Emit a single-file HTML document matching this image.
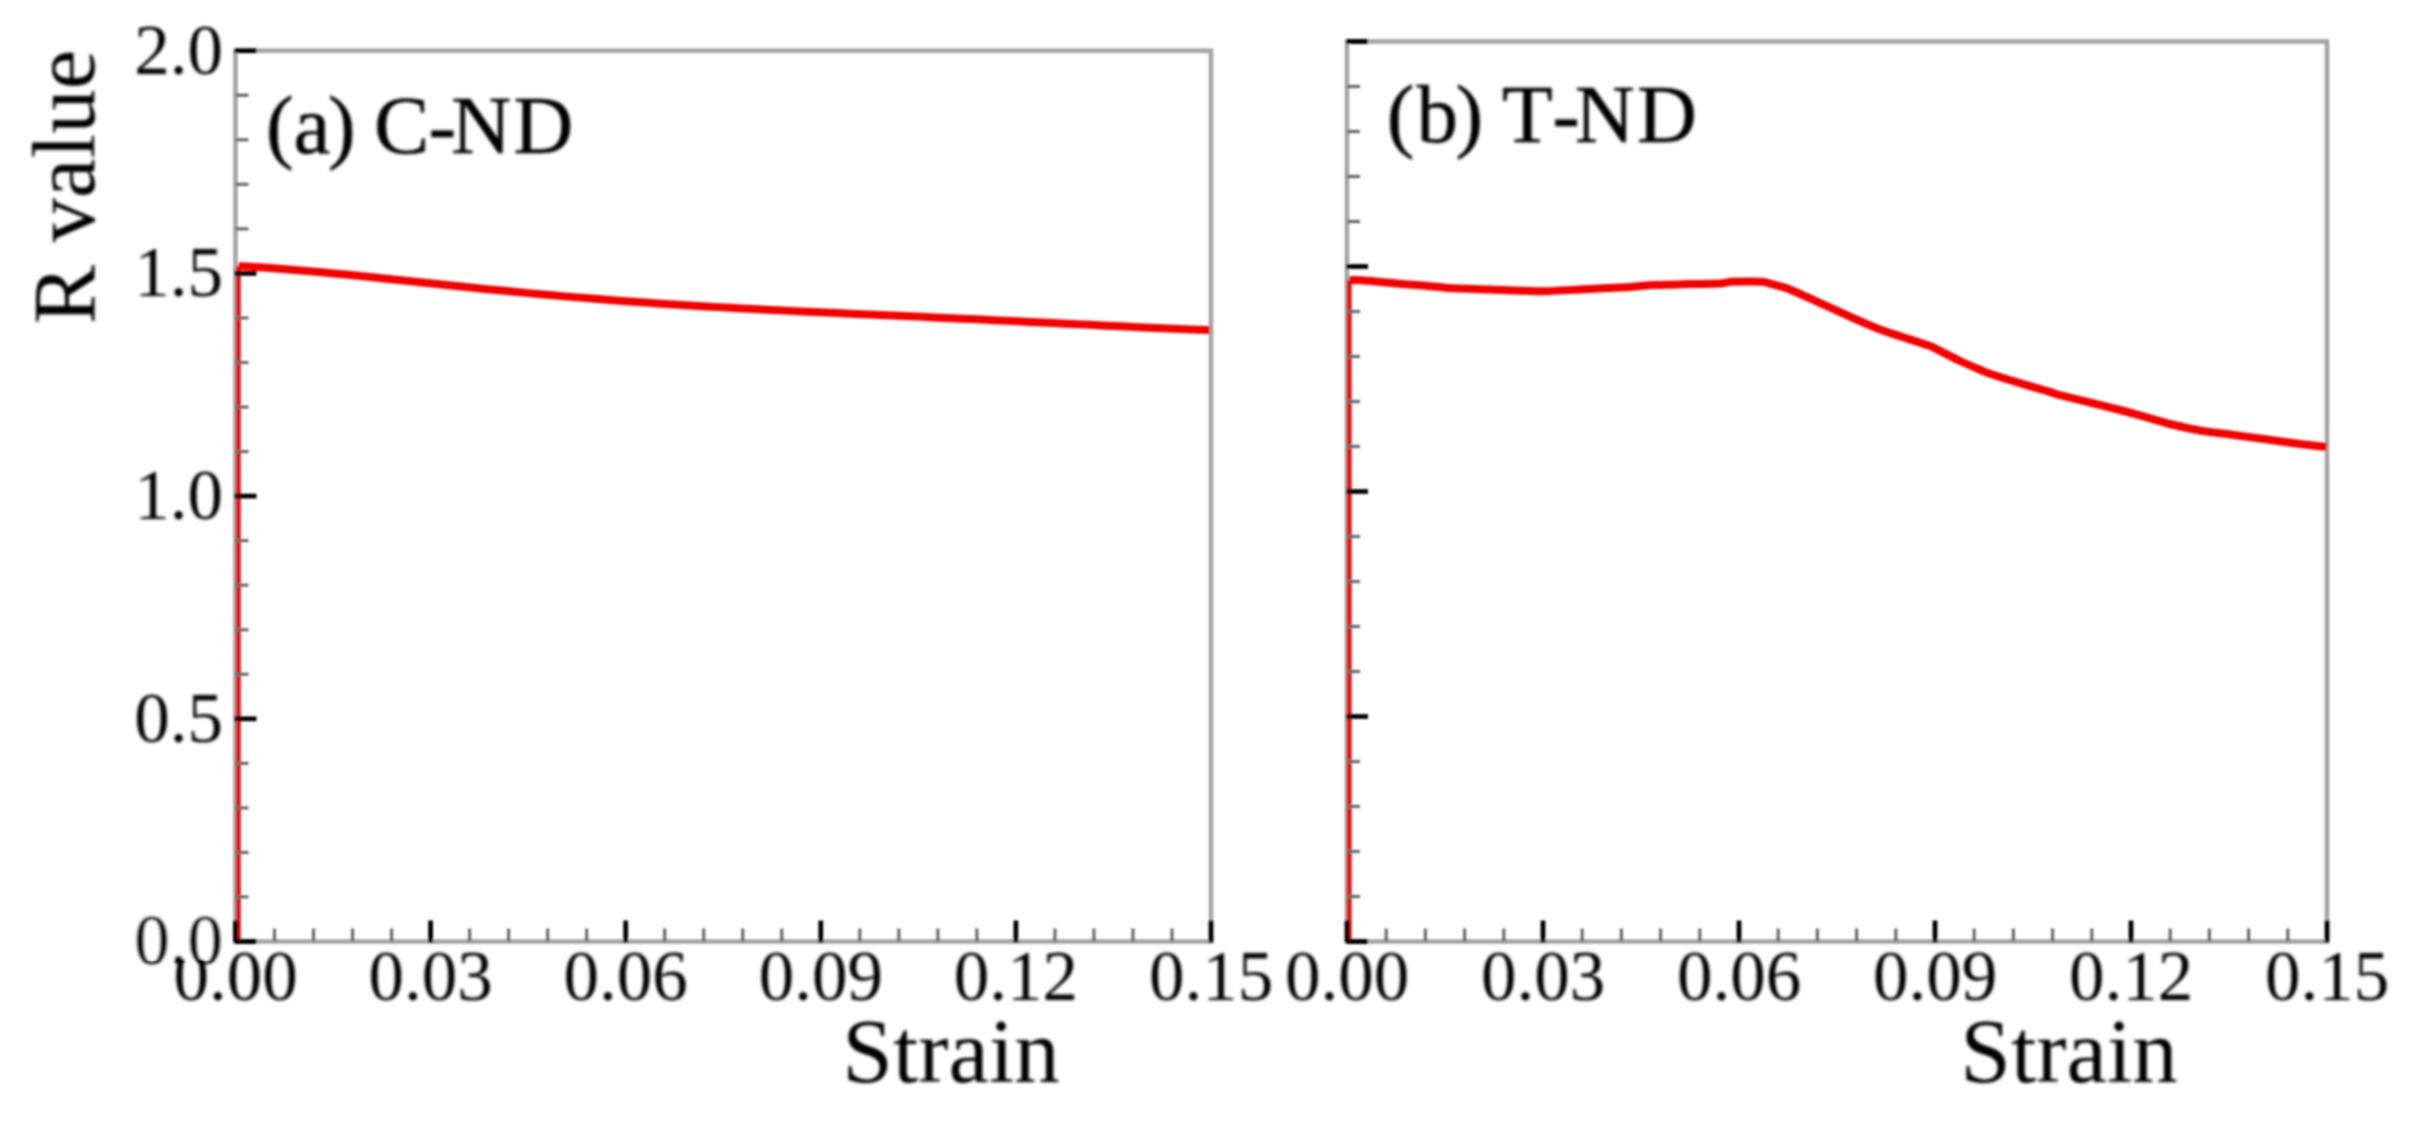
<!DOCTYPE html>
<html><head><meta charset="utf-8"><style>
html,body{margin:0;padding:0;background:#fff;width:2409px;height:1121px;overflow:hidden}
svg{display:block}
text{font-family:"Liberation Serif",serif;fill:#000;stroke:#000;stroke-width:0.0}
.ttl{stroke-width:0.5}
.tk{stroke:#fff;stroke-width:0.0}
</style></head><body>
<svg width="2409" height="1121" viewBox="0 0 2409 1121">
<defs><filter id="bl" x="-5%" y="-5%" width="110%" height="110%"><feGaussianBlur stdDeviation="0.9"/></filter><filter id="bt" x="-10%" y="-10%" width="120%" height="120%"><feGaussianBlur stdDeviation="1.0"/></filter></defs>
<rect width="2409" height="1121" fill="#fff"/>
<g filter="url(#bl)">
<rect x="235.5" y="50.7" width="975.5" height="890.8" fill="none" stroke="#a4a4a4" stroke-width="4.6"/>
<path d="M238.3 941.5 L238.3 266.2" fill="none" stroke="#d81414" stroke-width="5"/>
<path d="M238.3 266.2 C239.67 266.26 245.84 266.49 250 266.73 C254.16 266.97 268.4 267.89 274 268.3 C279.6 268.7 292.4 269.71 298 270.18 C303.6 270.64 316.4 271.78 322 272.3 C327.6 272.81 340.4 274.05 346 274.6 C351.6 275.15 364.4 276.44 370 277.02 C375.6 277.59 388.4 278.92 394 279.51 C399.6 280.09 412.4 281.44 418 282.03 C423.6 282.62 436.4 283.96 442 284.54 C447.6 285.12 460.4 286.44 466 287.01 C471.6 287.58 484.4 288.87 490 289.43 C495.6 289.98 508.4 291.22 514 291.75 C519.6 292.29 532.4 293.48 538 293.98 C543.6 294.49 556.4 295.62 562 296.11 C567.6 296.59 580.4 297.66 586 298.11 C591.6 298.57 604.4 299.57 610 300 C615.6 300.43 628.4 301.37 634 301.77 C639.6 302.17 652.4 303.06 658 303.43 C663.6 303.81 676.4 304.63 682 304.98 C687.6 305.33 700.4 306.11 706 306.43 C711.6 306.76 724.4 307.49 730 307.79 C735.6 308.1 748.4 308.78 754 309.08 C759.6 309.37 772.4 310.01 778 310.29 C783.6 310.57 796.4 311.18 802 311.45 C807.6 311.72 820.4 312.31 826 312.57 C831.6 312.83 844.4 313.41 850 313.66 C855.6 313.91 868.4 314.48 874 314.73 C879.6 314.98 892.4 315.55 898 315.8 C903.6 316.05 916.4 316.62 922 316.87 C927.6 317.12 940.4 317.7 946 317.96 C951.6 318.21 964.4 318.8 970 319.06 C975.6 319.32 988.4 319.92 994 320.18 C999.6 320.45 1012.4 321.06 1018 321.33 C1023.6 321.6 1036.4 322.22 1042 322.49 C1047.6 322.77 1060.4 323.4 1066 323.67 C1071.6 323.95 1084.4 324.58 1090 324.86 C1095.6 325.13 1108.4 325.76 1114 326.03 C1119.6 326.3 1132.4 326.91 1138 327.17 C1143.6 327.43 1156.4 328.01 1162 328.25 C1167.6 328.49 1180.4 329.03 1186 329.25 C1191.6 329.47 1207.2 330.02 1210 330.12" fill="none" stroke="#f00000" stroke-width="8.0" stroke-linejoin="round"/>
<line x1="235.5" y1="896.96" x2="248.5" y2="896.96" stroke="#6a6a6a" stroke-width="3.2"/>
<line x1="235.5" y1="852.42" x2="248.5" y2="852.42" stroke="#6a6a6a" stroke-width="3.2"/>
<line x1="235.5" y1="807.88" x2="248.5" y2="807.88" stroke="#6a6a6a" stroke-width="3.2"/>
<line x1="235.5" y1="763.34" x2="248.5" y2="763.34" stroke="#6a6a6a" stroke-width="3.2"/>
<line x1="235.5" y1="674.26" x2="248.5" y2="674.26" stroke="#6a6a6a" stroke-width="3.2"/>
<line x1="235.5" y1="629.72" x2="248.5" y2="629.72" stroke="#6a6a6a" stroke-width="3.2"/>
<line x1="235.5" y1="585.18" x2="248.5" y2="585.18" stroke="#6a6a6a" stroke-width="3.2"/>
<line x1="235.5" y1="540.64" x2="248.5" y2="540.64" stroke="#6a6a6a" stroke-width="3.2"/>
<line x1="235.5" y1="451.56" x2="248.5" y2="451.56" stroke="#6a6a6a" stroke-width="3.2"/>
<line x1="235.5" y1="407.02" x2="248.5" y2="407.02" stroke="#6a6a6a" stroke-width="3.2"/>
<line x1="235.5" y1="362.48" x2="248.5" y2="362.48" stroke="#6a6a6a" stroke-width="3.2"/>
<line x1="235.5" y1="317.94" x2="248.5" y2="317.94" stroke="#6a6a6a" stroke-width="3.2"/>
<line x1="235.5" y1="228.86" x2="248.5" y2="228.86" stroke="#6a6a6a" stroke-width="3.2"/>
<line x1="235.5" y1="184.32" x2="248.5" y2="184.32" stroke="#6a6a6a" stroke-width="3.2"/>
<line x1="235.5" y1="139.78" x2="248.5" y2="139.78" stroke="#6a6a6a" stroke-width="3.2"/>
<line x1="235.5" y1="95.24" x2="248.5" y2="95.24" stroke="#6a6a6a" stroke-width="3.2"/>
<line x1="274.52" y1="941.5" x2="274.52" y2="928.5" stroke="#6a6a6a" stroke-width="3.2"/>
<line x1="313.54" y1="941.5" x2="313.54" y2="928.5" stroke="#6a6a6a" stroke-width="3.2"/>
<line x1="352.56" y1="941.5" x2="352.56" y2="928.5" stroke="#6a6a6a" stroke-width="3.2"/>
<line x1="391.58" y1="941.5" x2="391.58" y2="928.5" stroke="#6a6a6a" stroke-width="3.2"/>
<line x1="469.62" y1="941.5" x2="469.62" y2="928.5" stroke="#6a6a6a" stroke-width="3.2"/>
<line x1="508.64" y1="941.5" x2="508.64" y2="928.5" stroke="#6a6a6a" stroke-width="3.2"/>
<line x1="547.66" y1="941.5" x2="547.66" y2="928.5" stroke="#6a6a6a" stroke-width="3.2"/>
<line x1="586.68" y1="941.5" x2="586.68" y2="928.5" stroke="#6a6a6a" stroke-width="3.2"/>
<line x1="664.72" y1="941.5" x2="664.72" y2="928.5" stroke="#6a6a6a" stroke-width="3.2"/>
<line x1="703.74" y1="941.5" x2="703.74" y2="928.5" stroke="#6a6a6a" stroke-width="3.2"/>
<line x1="742.76" y1="941.5" x2="742.76" y2="928.5" stroke="#6a6a6a" stroke-width="3.2"/>
<line x1="781.78" y1="941.5" x2="781.78" y2="928.5" stroke="#6a6a6a" stroke-width="3.2"/>
<line x1="859.82" y1="941.5" x2="859.82" y2="928.5" stroke="#6a6a6a" stroke-width="3.2"/>
<line x1="898.84" y1="941.5" x2="898.84" y2="928.5" stroke="#6a6a6a" stroke-width="3.2"/>
<line x1="937.86" y1="941.5" x2="937.86" y2="928.5" stroke="#6a6a6a" stroke-width="3.2"/>
<line x1="976.88" y1="941.5" x2="976.88" y2="928.5" stroke="#6a6a6a" stroke-width="3.2"/>
<line x1="1054.92" y1="941.5" x2="1054.92" y2="928.5" stroke="#6a6a6a" stroke-width="3.2"/>
<line x1="1093.94" y1="941.5" x2="1093.94" y2="928.5" stroke="#6a6a6a" stroke-width="3.2"/>
<line x1="1132.96" y1="941.5" x2="1132.96" y2="928.5" stroke="#6a6a6a" stroke-width="3.2"/>
<line x1="1171.98" y1="941.5" x2="1171.98" y2="928.5" stroke="#6a6a6a" stroke-width="3.2"/>
<line x1="234.5" y1="941.5" x2="256.5" y2="941.5" stroke="#000" stroke-width="4.8"/>
<line x1="234.5" y1="718.8" x2="256.5" y2="718.8" stroke="#000" stroke-width="4.8"/>
<line x1="234.5" y1="496.1" x2="256.5" y2="496.1" stroke="#000" stroke-width="4.8"/>
<line x1="234.5" y1="273.4" x2="256.5" y2="273.4" stroke="#000" stroke-width="4.8"/>
<line x1="234.5" y1="50.7" x2="256.5" y2="50.7" stroke="#000" stroke-width="4.8"/>
<line x1="235.5" y1="942.5" x2="235.5" y2="920.5" stroke="#000" stroke-width="4.8"/>
<line x1="430.6" y1="942.5" x2="430.6" y2="920.5" stroke="#000" stroke-width="4.8"/>
<line x1="625.7" y1="942.5" x2="625.7" y2="920.5" stroke="#000" stroke-width="4.8"/>
<line x1="820.8" y1="942.5" x2="820.8" y2="920.5" stroke="#000" stroke-width="4.8"/>
<line x1="1015.9" y1="942.5" x2="1015.9" y2="920.5" stroke="#000" stroke-width="4.8"/>
<line x1="1211" y1="942.5" x2="1211" y2="920.5" stroke="#000" stroke-width="4.8"/>
<text x="235.5" y="999.5" text-anchor="middle" class="tk" filter="url(#bt)" font-size="71">0.00</text>
<text x="430.6" y="999.5" text-anchor="middle" class="tk" filter="url(#bt)" font-size="71">0.03</text>
<text x="625.7" y="999.5" text-anchor="middle" class="tk" filter="url(#bt)" font-size="71">0.06</text>
<text x="820.8" y="999.5" text-anchor="middle" class="tk" filter="url(#bt)" font-size="71">0.09</text>
<text x="1015.9" y="999.5" text-anchor="middle" class="tk" filter="url(#bt)" font-size="71">0.12</text>
<text x="1211" y="999.5" text-anchor="middle" class="tk" filter="url(#bt)" font-size="71">0.15</text>
<rect x="1347" y="41.5" width="980" height="900" fill="none" stroke="#a4a4a4" stroke-width="4.6"/>
<path d="M1349.2 941.5 L1349.2 280" fill="none" stroke="#d81414" stroke-width="5"/>
<path d="M1349.2 280 C1349.88 280.01 1351.87 279.93 1355 280.1 C1358.13 280.28 1370.52 281.05 1376 281.5 C1381.48 281.95 1396.52 283.52 1402 284 C1407.48 284.48 1417.52 285.13 1423 285.6 C1428.48 286.07 1441.18 287.55 1449 288 C1456.82 288.45 1479.15 289.12 1490 289.5 C1500.85 289.88 1531.03 291.34 1542 291.3 C1552.97 291.26 1574.2 289.68 1584 289.2 C1593.8 288.72 1618.07 287.68 1626 287.2 C1633.93 286.72 1644.77 285.46 1652 285.1 C1659.23 284.74 1680.07 284.29 1688 284.1 C1695.93 283.91 1714.87 283.77 1720 283.5 C1725.13 283.23 1727.1 282 1732 281.8 C1736.9 281.6 1757.22 281.5 1762 281.8 C1766.78 282.1 1769.73 283.5 1773 284.4 C1776.27 285.3 1784.87 287.49 1790 289.5 C1795.13 291.51 1810 298.44 1817 301.6 C1824 304.76 1842.65 313.35 1850 316.6 C1857.35 319.86 1870.9 326.15 1880 329.5 C1889.1 332.85 1921 342.81 1928 345.3 C1935 347.79 1936.27 348.97 1940 350.8 C1943.73 352.63 1955.33 358.8 1960 361 C1964.67 363.2 1976.5 368.21 1980 369.7 C1983.5 371.19 1985.33 372.23 1990 373.8 C1994.67 375.38 2013 381.09 2020 383.2 C2027 385.31 2045.33 390.5 2050 391.9 C2054.67 393.3 2055.33 393.96 2060 395.2 C2064.67 396.44 2083 400.77 2090 402.5 C2097 404.23 2114.17 408.5 2120 410 C2125.83 411.5 2134.17 413.77 2140 415.4 C2145.83 417.03 2163 422.24 2170 424 C2177 425.76 2193 429.27 2200 430.5 C2207 431.73 2223 433.57 2230 434.5 C2237 435.43 2251.83 437.39 2260 438.5 C2268.17 439.61 2292.18 443.01 2300 444 C2307.82 444.99 2323.85 446.65 2327 447" fill="none" stroke="#f00000" stroke-width="8.0" stroke-linejoin="round"/>
<line x1="1347" y1="896.5" x2="1360" y2="896.5" stroke="#6a6a6a" stroke-width="3.2"/>
<line x1="1347" y1="851.5" x2="1360" y2="851.5" stroke="#6a6a6a" stroke-width="3.2"/>
<line x1="1347" y1="806.5" x2="1360" y2="806.5" stroke="#6a6a6a" stroke-width="3.2"/>
<line x1="1347" y1="761.5" x2="1360" y2="761.5" stroke="#6a6a6a" stroke-width="3.2"/>
<line x1="1347" y1="671.5" x2="1360" y2="671.5" stroke="#6a6a6a" stroke-width="3.2"/>
<line x1="1347" y1="626.5" x2="1360" y2="626.5" stroke="#6a6a6a" stroke-width="3.2"/>
<line x1="1347" y1="581.5" x2="1360" y2="581.5" stroke="#6a6a6a" stroke-width="3.2"/>
<line x1="1347" y1="536.5" x2="1360" y2="536.5" stroke="#6a6a6a" stroke-width="3.2"/>
<line x1="1347" y1="446.5" x2="1360" y2="446.5" stroke="#6a6a6a" stroke-width="3.2"/>
<line x1="1347" y1="401.5" x2="1360" y2="401.5" stroke="#6a6a6a" stroke-width="3.2"/>
<line x1="1347" y1="356.5" x2="1360" y2="356.5" stroke="#6a6a6a" stroke-width="3.2"/>
<line x1="1347" y1="311.5" x2="1360" y2="311.5" stroke="#6a6a6a" stroke-width="3.2"/>
<line x1="1347" y1="221.5" x2="1360" y2="221.5" stroke="#6a6a6a" stroke-width="3.2"/>
<line x1="1347" y1="176.5" x2="1360" y2="176.5" stroke="#6a6a6a" stroke-width="3.2"/>
<line x1="1347" y1="131.5" x2="1360" y2="131.5" stroke="#6a6a6a" stroke-width="3.2"/>
<line x1="1347" y1="86.5" x2="1360" y2="86.5" stroke="#6a6a6a" stroke-width="3.2"/>
<line x1="1386.2" y1="941.5" x2="1386.2" y2="928.5" stroke="#6a6a6a" stroke-width="3.2"/>
<line x1="1425.4" y1="941.5" x2="1425.4" y2="928.5" stroke="#6a6a6a" stroke-width="3.2"/>
<line x1="1464.6" y1="941.5" x2="1464.6" y2="928.5" stroke="#6a6a6a" stroke-width="3.2"/>
<line x1="1503.8" y1="941.5" x2="1503.8" y2="928.5" stroke="#6a6a6a" stroke-width="3.2"/>
<line x1="1582.2" y1="941.5" x2="1582.2" y2="928.5" stroke="#6a6a6a" stroke-width="3.2"/>
<line x1="1621.4" y1="941.5" x2="1621.4" y2="928.5" stroke="#6a6a6a" stroke-width="3.2"/>
<line x1="1660.6" y1="941.5" x2="1660.6" y2="928.5" stroke="#6a6a6a" stroke-width="3.2"/>
<line x1="1699.8" y1="941.5" x2="1699.8" y2="928.5" stroke="#6a6a6a" stroke-width="3.2"/>
<line x1="1778.2" y1="941.5" x2="1778.2" y2="928.5" stroke="#6a6a6a" stroke-width="3.2"/>
<line x1="1817.4" y1="941.5" x2="1817.4" y2="928.5" stroke="#6a6a6a" stroke-width="3.2"/>
<line x1="1856.6" y1="941.5" x2="1856.6" y2="928.5" stroke="#6a6a6a" stroke-width="3.2"/>
<line x1="1895.8" y1="941.5" x2="1895.8" y2="928.5" stroke="#6a6a6a" stroke-width="3.2"/>
<line x1="1974.2" y1="941.5" x2="1974.2" y2="928.5" stroke="#6a6a6a" stroke-width="3.2"/>
<line x1="2013.4" y1="941.5" x2="2013.4" y2="928.5" stroke="#6a6a6a" stroke-width="3.2"/>
<line x1="2052.6" y1="941.5" x2="2052.6" y2="928.5" stroke="#6a6a6a" stroke-width="3.2"/>
<line x1="2091.8" y1="941.5" x2="2091.8" y2="928.5" stroke="#6a6a6a" stroke-width="3.2"/>
<line x1="2170.2" y1="941.5" x2="2170.2" y2="928.5" stroke="#6a6a6a" stroke-width="3.2"/>
<line x1="2209.4" y1="941.5" x2="2209.4" y2="928.5" stroke="#6a6a6a" stroke-width="3.2"/>
<line x1="2248.6" y1="941.5" x2="2248.6" y2="928.5" stroke="#6a6a6a" stroke-width="3.2"/>
<line x1="2287.8" y1="941.5" x2="2287.8" y2="928.5" stroke="#6a6a6a" stroke-width="3.2"/>
<line x1="1346" y1="941.5" x2="1368" y2="941.5" stroke="#000" stroke-width="4.8"/>
<line x1="1346" y1="716.5" x2="1368" y2="716.5" stroke="#000" stroke-width="4.8"/>
<line x1="1346" y1="491.5" x2="1368" y2="491.5" stroke="#000" stroke-width="4.8"/>
<line x1="1346" y1="266.5" x2="1368" y2="266.5" stroke="#000" stroke-width="4.8"/>
<line x1="1346" y1="41.5" x2="1368" y2="41.5" stroke="#000" stroke-width="4.8"/>
<line x1="1347" y1="942.5" x2="1347" y2="920.5" stroke="#000" stroke-width="4.8"/>
<line x1="1543" y1="942.5" x2="1543" y2="920.5" stroke="#000" stroke-width="4.8"/>
<line x1="1739" y1="942.5" x2="1739" y2="920.5" stroke="#000" stroke-width="4.8"/>
<line x1="1935" y1="942.5" x2="1935" y2="920.5" stroke="#000" stroke-width="4.8"/>
<line x1="2131" y1="942.5" x2="2131" y2="920.5" stroke="#000" stroke-width="4.8"/>
<line x1="2327" y1="942.5" x2="2327" y2="920.5" stroke="#000" stroke-width="4.8"/>
<text x="1347" y="999.5" text-anchor="middle" class="tk" filter="url(#bt)" font-size="71">0.00</text>
<text x="1543" y="999.5" text-anchor="middle" class="tk" filter="url(#bt)" font-size="71">0.03</text>
<text x="1739" y="999.5" text-anchor="middle" class="tk" filter="url(#bt)" font-size="71">0.06</text>
<text x="1935" y="999.5" text-anchor="middle" class="tk" filter="url(#bt)" font-size="71">0.09</text>
<text x="2131" y="999.5" text-anchor="middle" class="tk" filter="url(#bt)" font-size="71">0.12</text>
<text x="2327" y="999.5" text-anchor="middle" class="tk" filter="url(#bt)" font-size="71">0.15</text>
<rect x="128" y="905" width="96" height="54" fill="#fff"/>
<text x="223" y="964.3" text-anchor="end" class="tk" filter="url(#bt)" font-size="71">0.0</text>
<text x="223" y="741.6" text-anchor="end" class="tk" filter="url(#bt)" font-size="71">0.5</text>
<text x="223" y="518.9" text-anchor="end" class="tk" filter="url(#bt)" font-size="71">1.0</text>
<text x="223" y="296.2" text-anchor="end" class="tk" filter="url(#bt)" font-size="71">1.5</text>
<text x="223" y="73.5" text-anchor="end" class="tk" filter="url(#bt)" font-size="71">2.0</text>
<text x="266 293.5 328.1 358 373.9 428.5 451.3 513.4" y="153" class="ttl" filter="url(#bt)" font-size="83">(a) C-ND</text>
<text x="1386.7 1416.5 1455.5 1483 1502 1552.3 1574.8 1636.9" y="141.7" class="ttl" filter="url(#bt)" font-size="83">(b) T-ND</text>
<text x="951" y="1082" text-anchor="middle" filter="url(#bt)" font-size="91">Strain</text>
<text x="2069" y="1082" text-anchor="middle" filter="url(#bt)" font-size="91">Strain</text>
<text transform="translate(94 187) rotate(-90)" text-anchor="middle" filter="url(#bt)" font-size="89">R value</text>
</g>
</svg>
</body></html>
